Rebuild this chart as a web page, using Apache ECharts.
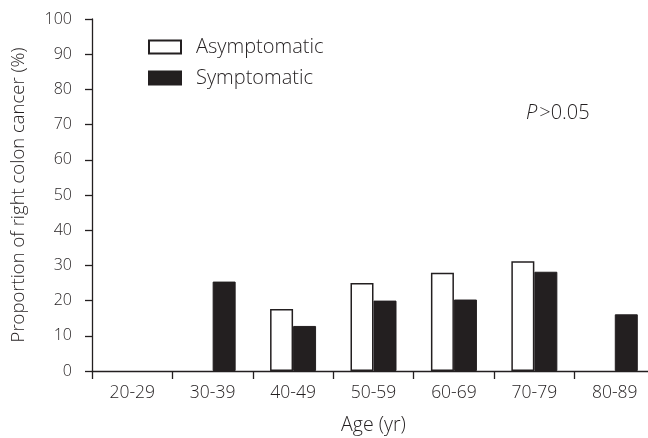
<!DOCTYPE html>
<html><head><meta charset="utf-8">
<script src="https://cdn.jsdelivr.net/npm/echarts@6/dist/echarts.min.js"></script>
<style>html,body{margin:0;padding:0;background:#fff}#c{width:648px;height:438px}</style>
</head><body><div id="c"></div>
<script>
var categories = ['20-29','30-39','40-49','50-59','60-69','70-79','80-89'];
var asymptomatic = [null, null, 17.6, 25.0, 27.9, 31.2, null];
var symptomatic = [null, 25.4, 12.8, 20.0, 20.3, 28.2, 16.1];
var yTicks = [0,10,20,30,40,50,60,70,80,90,100];

var FONT = 'Open Sans';
var W = 300;
var C = '#231f20';
var chart = echarts.init(document.getElementById('c'));
chart.setOption({
  backgroundColor: '#fff',
  textStyle: {fontFamily: FONT, fontWeight: W},
  grid: {left: 92, top: 19, width: 563, height: 352, containLabel: false, outerBoundsMode: 'none'},
  legend: {
    left: 143, top: 32, orient: 'vertical', icon: 'rect', itemWidth: 32, itemHeight: 13, itemGap: 11,
    textStyle: {fontFamily: FONT, fontWeight: W, fontSize: 20, lineHeight: 14, color: C, padding: [0,0,0,10]},
    data: ['Asymptomatic','Symptomatic']
  },
  title: {
    left: 521, top: 98,
    text: '{i|P}{n|>0.05}',
    textStyle: {rich: {
      i: {fontFamily: FONT, fontWeight: W, fontStyle: 'italic', fontSize: 20, color: C},
      n: {fontFamily: FONT, fontWeight: W, fontSize: 20, color: C, padding: [0,0,0,2]}
    }}
  },
  xAxis: {
    type: 'category', data: categories, boundaryGap: true,
    name: 'Age (yr)', nameLocation: 'middle', nameGap: 44,
    nameTextStyle: {fontFamily: FONT, fontWeight: W, fontSize: 19.5, color: C},
    axisLine: {lineStyle: {color: C, width: 1.3}},
    axisTick: {show: true, length: 8, lineStyle: {color: C, width: 1.3}},
    axisLabel: {fontFamily: FONT, fontWeight: W, fontSize: 17.5, color: C, margin: 13}
  },
  yAxis: {
    type: 'value', min: 0, max: 100, interval: 10,
    name: 'Proportion of right colon cancer (%)', nameLocation: 'middle', nameGap: 64,
    nameTextStyle: {fontFamily: FONT, fontWeight: W, fontSize: 18.5, color: C},
    axisLine: {show: true, lineStyle: {color: C, width: 1.3}},
    axisTick: {show: true, length: 7, lineStyle: {color: C, width: 1.3}},
    splitLine: {show: false},
    axisLabel: {fontFamily: FONT, fontWeight: W, fontSize: 16, color: C, margin: 20,
      formatter: function(v){ return yTicks.indexOf(v) >= 0 ? String(v) : ''; }}
  },
  series: [
    {name: 'Asymptomatic', type: 'bar', data: asymptomatic, barWidth: 23, barGap: '0%',
     itemStyle: {color: '#fff', borderColor: C, borderWidth: 1.5, borderRadius: 0}},
    {name: 'Symptomatic', type: 'bar', data: symptomatic, barWidth: 23, barGap: '0%',
     itemStyle: {color: C, borderColor: C, borderWidth: 1, borderRadius: 0}}
  ]
});
</script></body></html>
